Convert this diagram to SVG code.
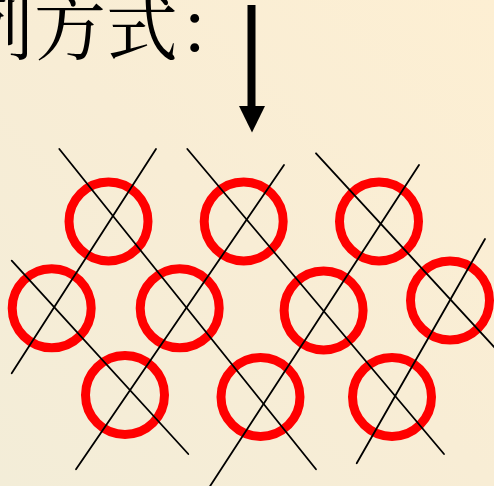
<svg xmlns="http://www.w3.org/2000/svg" width="494" height="486" viewBox="0 0 494 486">
<defs>
<linearGradient id="bg" x1="1" y1="0" x2="0" y2="1">
<stop offset="0" stop-color="#FDEFD3"/>
<stop offset="0.5" stop-color="#F8EDD5"/>
<stop offset="1" stop-color="#F3EDD8"/>
</linearGradient>
<style>
.ring{fill:none;stroke:#FF0000;stroke-width:9}
.ln{stroke:#000;stroke-width:1.8;fill:none;stroke-linecap:round}
.t{font-family:"Noto Serif CJK SC","Noto Sans CJK SC","Liberation Serif",serif;font-size:72px;fill:#000}
</style>
</defs>
<rect width="494" height="486" fill="url(#bg)"/>
<text class="t" x="-38" y="54">列方式：</text>
<g id="arrow">
<rect x="247.5" y="5" width="8" height="104" fill="#000"/>
<polygon points="239,106 265,106 252,132.5" fill="#000"/>
</g>
<g id="rings">
<g id="c1"><circle class="ring" cx="108.5" cy="221.5" r="39.5"/></g>
<g id="c2"><circle class="ring" cx="243.7" cy="221.5" r="39.5"/></g>
<g id="c3"><circle class="ring" cx="379" cy="221.5" r="39.5"/></g>
<g id="c4"><circle class="ring" cx="51.7" cy="308.3" r="39.5"/></g>
<g id="c5"><circle class="ring" cx="179.7" cy="308.3" r="39.5"/></g>
<g id="c6"><circle class="ring" cx="323.6" cy="310.5" r="39.5"/></g>
<g id="c7"><circle class="ring" cx="450" cy="300.6" r="39.5"/></g>
<g id="c8"><circle class="ring" cx="125" cy="395" r="39.5"/></g>
<g id="c9"><circle class="ring" cx="260.5" cy="397" r="39.5"/></g>
<g id="c10"><circle class="ring" cx="392" cy="397" r="39.5"/></g>
</g>
<g id="connectors">
<line class="ln" x1="59.3" y1="149" x2="316" y2="469.3"/>
<line class="ln" x1="11.7" y1="260.7" x2="188.3" y2="454"/>
<line class="ln" x1="187.3" y1="149" x2="444" y2="454"/>
<line class="ln" x1="316" y1="153.3" x2="496" y2="349"/>
<line class="ln" x1="156" y1="149" x2="11.7" y2="373.3"/>
<line class="ln" x1="284" y1="165" x2="76" y2="469.3"/>
<line class="ln" x1="419" y1="165" x2="209.5" y2="487"/>
<line class="ln" x1="485" y1="239" x2="356.7" y2="463.3"/>
</g>
</svg>
